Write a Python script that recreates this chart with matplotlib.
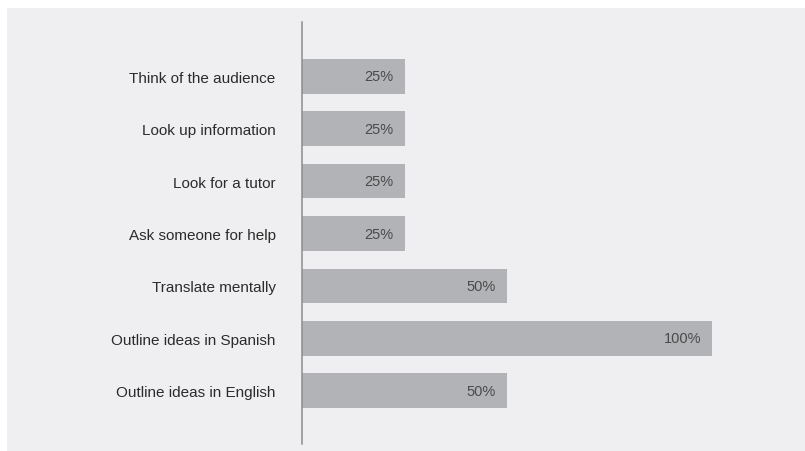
import matplotlib.pyplot as plt
from matplotlib.patches import Rectangle

plt.rcParams['font.family'] = ['Liberation Sans', 'DejaVu Sans']

# categories listed top to bottom
labels = [
    "Think of the audience",
    "Look up information",
    "Look for a tutor",
    "Ask someone for help",
    "Translate mentally",
    "Outline ideas in Spanish",
    "Outline ideas in English",
]
values = [25, 25, 25, 25, 50, 100, 50]

panel = "#efeff1"
bar_color = "#b2b3b6"

W, H = 805, 452
fig = plt.figure(figsize=(W / 100, H / 100), dpi=100)
fig.patch.set_facecolor("white")
fig.patches.append(Rectangle((7 / W, 0), 1, (H - 9) / H, transform=fig.transFigure,
                             facecolor=panel, edgecolor="none", zorder=-1))

# axes: x=0 at px 302, x=100 at px 712; y from px 23 to 445
left, right = 302, 795
ax = fig.add_axes([left / W, (H - 445) / H, (right - left) / W, (445 - 23) / H])
ax.set_zorder(1)
ax.set_facecolor("none")
ax.set_xlim(0, 100 * (right - left) / 410)

ypos = list(range(len(labels)))
ax.barh(ypos, values, height=0.66, color=bar_color, zorder=2)
ax.set_ylim(len(labels) - 1 + 1.015, -1.035)

for y, v in zip(ypos, values):
    ax.annotate(f"{v}%", xy=(v, y), xytext=(-8, 0), textcoords="offset points",
                ha="right", va="center", fontsize=10.5, color="#4a4a4a", zorder=3)

ax.set_yticks(ypos)
ax.set_yticklabels(labels, fontsize=11, color="#2b2b2b")
ax.tick_params(axis="y", length=0, pad=19)
ax.set_xticks([])

for s in ["top", "right", "bottom"]:
    ax.spines[s].set_visible(False)
ax.spines["left"].set_color("#8c8c8c")
ax.spines["left"].set_linewidth(1.1)
ax.spines["left"].set_zorder(4)

fig.savefig("out.png", dpi=100)
